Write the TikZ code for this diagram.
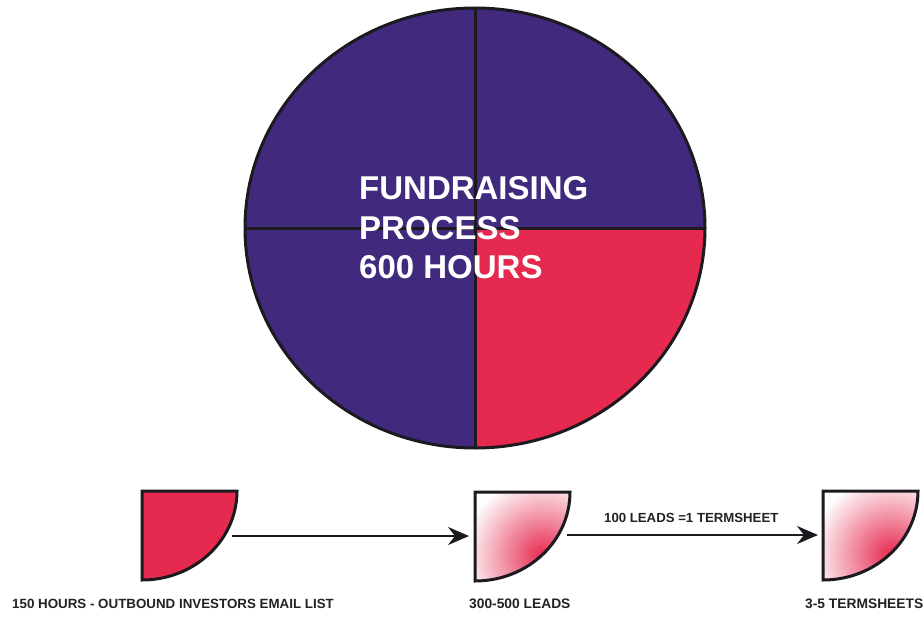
\documentclass[tikz,border=0pt]{standalone}
\usepackage{fontspec}
\setmainfont{Liberation Sans}
\usetikzlibrary{arrows.meta,fadings}

\definecolor{deeppurple}{RGB}{65,42,126}
\definecolor{crimson}{RGB}{230,41,79}
\definecolor{inkline}{RGB}{28,26,30}
\definecolor{labelgray}{RGB}{34,34,34}

% soft white-to-pink glow spreading out from the square corner
\pgfdeclareradialshading{cornerglow}{\pgfpointorigin}{%
  color(0bp)=(white); color(30bp)=(white); color(50bp)=(crimson!30)}
% red spot sitting on the middle of the arc
\tikzfading[name=spotfade, inner color=transparent!0, outer color=transparent!100]

\tikzset{
  outline/.style={draw=inkline, line width=3pt, line join=miter},
  flowarrow/.style={draw=inkline, line width=2.4pt,
    -{Stealth[length=21pt, width=18pt, inset=7pt]}},
  caption/.style={font=\bfseries\fontsize{13.8}{16}\selectfont, text=labelgray,
    inner sep=0pt, anchor=west},
  title/.style={font=\bfseries\fontsize{33}{39.5}\selectfont, text=white,
    inner sep=0pt, anchor=west, align=left},
}

\newcommand{\quartershape}[1]{%
  (#1) -- ++(95,0) arc[start angle=0, end angle=90, x radius=95, y radius=89] -- cycle}

\begin{document}
\begin{tikzpicture}[x=1pt, y=-1pt]
  \useasboundingbox (0,0) rectangle (924,618);

  % ---- the big pie ----
  \coordinate (pie) at (475,228);
  \fill[deeppurple] (pie) ellipse [x radius=230, y radius=220];
  \fill[crimson] (pie) -- ++(230,0)
    arc[start angle=0, end angle=90, x radius=230, y radius=220] -- cycle;
  \draw[inkline, line width=3pt] (pie) ++(-230,0) -- ++(460,0);
  \draw[inkline, line width=3pt] (pie) ++(0,-220) -- ++(0,440);
  \draw[inkline, line width=3pt] (pie) ellipse [x radius=230, y radius=220];

  \node[title] (heading) at (359,228) {FUNDRAISING\\PROCESS\\600 HOURS};

  % ---- the three quarters ----
  \coordinate (hoursq) at (142,491);
  \coordinate (leadsq) at (475,492);
  \coordinate (termsq) at (823,491);

  \fill[crimson] \quartershape{hoursq};
  \draw[outline] \quartershape{hoursq};

  \foreach \q in {leadsq,termsq}{
    \begin{scope}
      \clip \quartershape{\q};
      \shade[shading=cornerglow] (\q) circle (96);
      \fill[crimson, path fading=spotfade] (\q) ++(68,64) circle (80);
    \end{scope}
    \draw[outline] \quartershape{\q};
  }

  % ---- arrows ----
  \coordinate (a1s) at (232,536);
  \coordinate (a1e) at (469,536);
  \coordinate (a2s) at (567,535);
  \coordinate (a2e) at (818,535);
  \draw[flowarrow] (a1s) -- (a1e);
  \draw[flowarrow] (a2s) -- (a2e);

  \node[caption, font=\bfseries\fontsize{13.2}{16}\selectfont] (ratio) at (604,518)
    {100 LEADS =1 TERMSHEET};

  % ---- captions ----
  \node[caption, font=\bfseries\fontsize{13.35}{16}\selectfont] (hourslbl) at (12,604)
    {150 HOURS - OUTBOUND INVESTORS EMAIL LIST};
  \node[caption] (leadslbl) at (469,604) {300-500 LEADS};
  \node[caption] (termlbl) at (805,604) {3-5 TERMSHEETS};
\end{tikzpicture}
\end{document}
